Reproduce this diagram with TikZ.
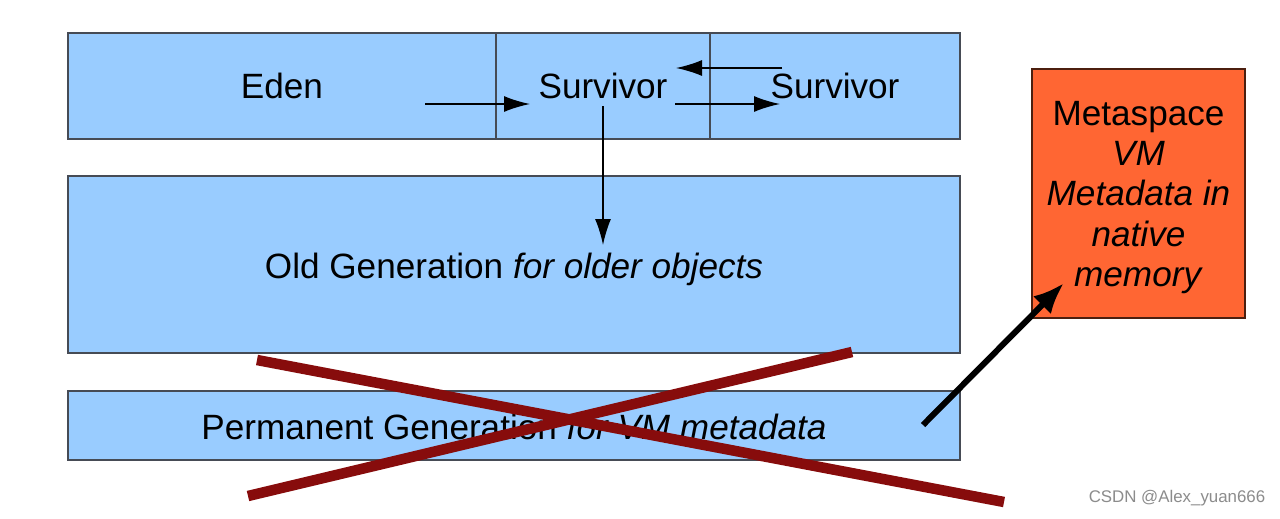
\documentclass[tikz,border=0pt]{standalone}
\usepackage{fontspec}
\setmainfont{Liberation Sans}
\usepackage{xcolor}
\usepackage{tikz}
\usetikzlibrary{arrows.meta,calc}
\definecolor{heapblue}{RGB}{153,204,255}
\definecolor{metaorange}{RGB}{255,102,51}
\definecolor{crossred}{RGB}{135,12,12}
\definecolor{edgegray}{RGB}{70,75,85}
\tikzset{>={Latex[length=0.52cm,width=0.32cm]},
    heap/.style={draw=edgegray, fill=heapblue, line width=0.8pt, minimum width=17.84cm, inner sep=0pt},
    meta/.style={draw=black!70!metaorange, fill=metaorange, line width=0.8pt, minimum width=4.26cm, minimum height=4.98cm, inner sep=0pt},
    label/.style={font=\fontsize{20}{23}\selectfont, align=center},
    flow/.style={->, line width=0.9pt},
    strike/.style={draw=crossred, line width=0.21cm}}

\begin{document}
\begin{tikzpicture}[x=0.02cm, y=-0.02cm]
    \useasboundingbox[fill=white] (0,0) rectangle (1280,518);
    % heap areas
    \node[heap, minimum height=2.12cm] at (514, 86) (young) {};
    \node[heap, minimum height=3.54cm] at (514, 264.5) (old) {};
    \node[heap, minimum height=1.38cm] at (514, 425.5) (perm) {};
    \node[meta] at (1138.5, 193.5) (meta) {};
    \draw[edgegray, line width=0.8pt] (496, 0 |- young.north) -- (496, 0 |- young.south);
    \draw[edgegray, line width=0.8pt] (710, 0 |- young.north) -- (710, 0 |- young.south);
    % texts
    \node[label] at (282, 86) (eden) {Eden};
    \node[label] at (603, 86) (s1) {Survivor};
    \node[label] at (835, 86) (s2) {Survivor};
    \node[label] at (514, 269) (oldtext) {Old Generation \textit{for older objects}};
    \node[label] at (514, 427) (permtext) {Permanent Generation \textit{for VM metadata}};
    \node[label] at (1138.5, 197.5) (metatext) {Metaspace\\ \textit{VM}\\ \textit{Metadata in}\\ \textit{native}\\ \textit{memory}};
    % copying between spaces
    \coordinate (e1) at (425, 104);
    \coordinate (e2) at (530, 104);
    \coordinate (f1) at (675, 104);
    \coordinate (f2) at (780, 104);
    \coordinate (g1) at (782, 68);
    \coordinate (g2) at (676, 68);
    \coordinate (p1) at (603, 106);
    \coordinate (p2) at (603, 245);
    \draw[flow] (e1) -- (e2);
    \draw[flow] (f1) -- (f2);
    \draw[flow] (g1) -- (g2);
    \draw[flow] (p1) -- (p2);
    % move to native memory
    \coordinate (m1) at (923, 425);
    \coordinate (m2) at (1064, 283);
    \draw[->, line width=0.12cm, >={Latex[length=0.62cm,width=0.5cm]}] (m1) -- (m2);
    % removed
    \draw[strike] (257, 360) -- (1004, 502);
    \draw[strike] (248, 496) -- (852, 352);
    \node[text=black!45, font=\fontsize{9.6}{11}\selectfont] at (1177, 498) (mark) {CSDN @Alex\_yuan666};
\end{tikzpicture}
\end{document}
